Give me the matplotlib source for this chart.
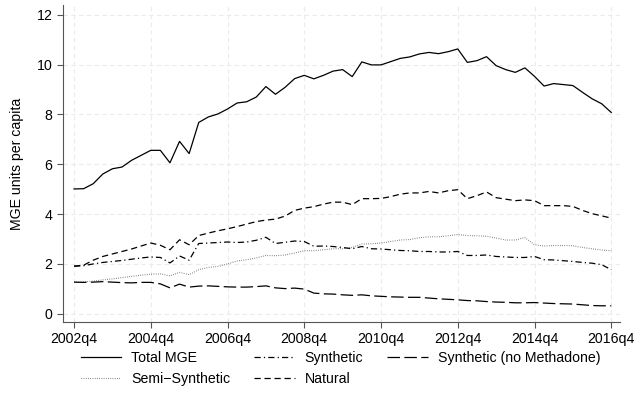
import numpy as np
import matplotlib
matplotlib.use('Agg')
import matplotlib.pyplot as plt

plt.rcParams['font.family'] = ['Liberation Sans', 'DejaVu Sans']

# Quarterly MGE units per capita, 2002q4 - 2016q4
quarters = [f'{2002 + (i + 3) // 4}q{(i + 3) % 4 + 1}' for i in range(57)]

total_mge = [5.01, 5.02, 5.22, 5.61, 5.82, 5.89, 6.16, 6.36, 6.56, 6.56,
             6.06, 6.92, 6.43, 7.68, 7.90, 8.02, 8.22, 8.46, 8.51, 8.70,
             9.12, 8.81, 9.09, 9.44, 9.57, 9.43, 9.57, 9.74, 9.80, 9.52,
             10.11, 9.99, 9.99, 10.12, 10.25, 10.31, 10.43, 10.49, 10.44, 10.52,
             10.63, 10.09, 10.16, 10.32, 9.96, 9.80, 9.69, 9.87, 9.53, 9.14,
             9.24, 9.20, 9.16, 8.89, 8.63, 8.43, 8.08]

natural = [1.91, 1.95, 2.15, 2.30, 2.40, 2.50, 2.60, 2.72, 2.84, 2.75,
           2.57, 2.97, 2.77, 3.14, 3.24, 3.33, 3.41, 3.50, 3.60, 3.70,
           3.76, 3.80, 3.92, 4.15, 4.24, 4.30, 4.40, 4.48, 4.48, 4.38,
           4.62, 4.62, 4.63, 4.70, 4.80, 4.85, 4.85, 4.91, 4.85, 4.94,
           4.98, 4.62, 4.74, 4.89, 4.66, 4.60, 4.54, 4.57, 4.54, 4.34,
           4.34, 4.34, 4.31, 4.15, 4.02, 3.93, 3.84]

synthetic = [1.91, 1.93, 2.00, 2.06, 2.10, 2.14, 2.19, 2.24, 2.28, 2.26,
             2.04, 2.32, 2.15, 2.82, 2.84, 2.86, 2.88, 2.86, 2.88, 2.95,
             3.07, 2.82, 2.87, 2.92, 2.90, 2.71, 2.72, 2.70, 2.66, 2.61,
             2.70, 2.61, 2.60, 2.57, 2.54, 2.53, 2.50, 2.50, 2.48, 2.48,
             2.50, 2.34, 2.34, 2.36, 2.30, 2.28, 2.26, 2.26, 2.30, 2.17,
             2.16, 2.13, 2.10, 2.06, 2.03, 1.97, 1.77]

semi_synthetic = [1.27, 1.28, 1.31, 1.36, 1.40, 1.45, 1.50, 1.55, 1.59, 1.60,
                  1.52, 1.66, 1.57, 1.77, 1.86, 1.90, 2.00, 2.12, 2.17, 2.24,
                  2.34, 2.33, 2.36, 2.44, 2.53, 2.53, 2.57, 2.61, 2.61, 2.66,
                  2.80, 2.81, 2.84, 2.90, 2.96, 2.98, 3.05, 3.09, 3.09, 3.13,
                  3.18, 3.14, 3.13, 3.11, 3.04, 2.96, 2.96, 3.06, 2.77, 2.72,
                  2.74, 2.74, 2.73, 2.66, 2.61, 2.56, 2.53]

synthetic_no_methadone = [1.27, 1.26, 1.27, 1.29, 1.27, 1.25, 1.24, 1.26, 1.26, 1.20,
                          1.04, 1.19, 1.07, 1.11, 1.12, 1.10, 1.08, 1.07, 1.07, 1.09,
                          1.12, 1.04, 1.01, 1.03, 0.99, 0.83, 0.80, 0.79, 0.76, 0.74,
                          0.76, 0.72, 0.70, 0.68, 0.67, 0.66, 0.66, 0.63, 0.60, 0.58,
                          0.56, 0.53, 0.52, 0.49, 0.47, 0.46, 0.44, 0.44, 0.45, 0.43,
                          0.41, 0.40, 0.39, 0.36, 0.33, 0.32, 0.32]

x = np.arange(len(quarters))
fs = 10.2

fig = plt.figure(figsize=(6.35, 4.04), dpi=100)
ax = fig.add_axes([0.0992, 0.203, 0.877, 0.785])

ax.plot(x, total_mge, color='black', lw=0.9, ls='-', label='Total MGE')
ax.plot(x, semi_synthetic, color='#555555', lw=0.8, ls=(0, (0.6, 1.4)), label='Semi\u2212Synthetic')
ax.plot(x, synthetic, color='black', lw=0.9, ls=(0, (5, 2.5, 1, 2.5)), label='Synthetic')
ax.plot(x, natural, color='black', lw=0.9, ls=(0, (5, 3)), label='Natural')
ax.plot(x, synthetic_no_methadone, color='black', lw=0.9, ls=(0, (10, 3.5)),
        label='Synthetic (no Methadone)')

ax.set_xlim(-1.15, 56.9)
ax.set_ylim(-0.33, 12.4)
ax.set_yticks(range(0, 13, 2))
ax.set_xticks(x[::8])
ax.set_xticklabels(quarters[::8])
ax.tick_params(labelsize=fs, length=4.5, width=0.8, color='#555555', pad=3)
ax.set_ylabel('MGE units per capita', fontsize=fs, labelpad=9)

ax.grid(True, color='#ebebeb', ls=(0, (4, 3)), lw=0.8)
ax.set_axisbelow(True)
for side in ['top', 'right']:
    ax.spines[side].set_visible(False)
for side in ['left', 'bottom']:
    ax.spines[side].set_color('#555555')
    ax.spines[side].set_linewidth(0.8)

fig.legend(loc='center', bbox_to_anchor=(0.536, 0.088), ncol=3, frameon=False,
           fontsize=fs, handlelength=2.85, columnspacing=1.7, labelspacing=0.5,
           handletextpad=0.7)

fig.savefig('out.png', dpi=100)
